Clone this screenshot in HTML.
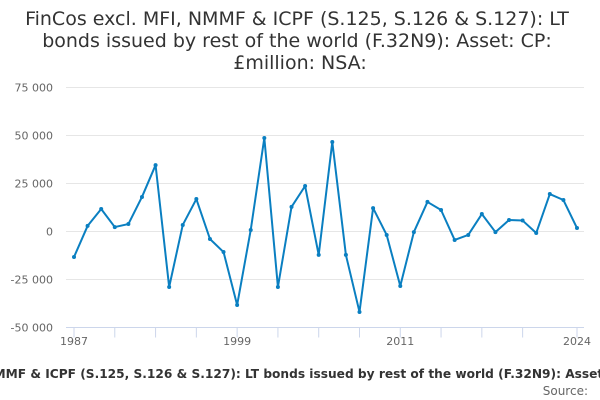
<!DOCTYPE html>
<html><head><meta charset="utf-8"><style>
body{margin:0;width:600px;height:400px;overflow:hidden;background:#fff;font-family:"DejaVu Sans","Liberation Sans",sans-serif;}
svg{display:block}
</style></head><body>
<svg id="chart" width="600" height="400">
<text x="300" y="25" text-anchor="middle" font-size="19" fill="#333">
<tspan x="300" y="25">FinCos excl. MFI, NMMF &amp; ICPF (S.125, S.126 &amp; S.127): LT</tspan>
<tspan x="300" y="47">bonds issued by rest of the world (F.32N9): Asset: CP:</tspan>
<tspan x="300" y="69">£million: NSA:</tspan></text>
<g id="grid"></g><g id="xaxis"></g><g id="series"></g>
<text x="300" y="378" text-anchor="middle" font-size="12.2" font-weight="bold" fill="#333">FinCos excl. MFI, NMMF &amp; ICPF (S.125, S.126 &amp; S.127): LT bonds issued by rest of the world (F.32N9): Asset: CP: £million: NSA:</text>
<text x="588" y="395" text-anchor="end" font-size="12" fill="#666">Source:</text>
</svg>
<script>
const years=[1987,1988,1989,1990,1991,1992,1993,1994,1995,1996,1997,1998,1999,2000,2001,2002,2003,2004,2005,2006,2007,2008,2009,2010,2011,2012,2013,2014,2015,2016,2017,2018,2019,2020,2021,2022,2023,2024];
const values=[-13300,2900,11700,2300,3900,18000,34600,-28900,3400,16900,-3900,-10700,-38300,800,48700,-28900,12800,23700,-12200,46600,-12200,-41900,12200,-1800,-28400,-300,15400,11200,-4400,-1800,9100,-300,6000,5700,-800,19500,16400,1800];
const yTicks=[-50000,-25000,0,25000,50000,75000];
const yTickLabels=["-50 000","-25 000","0","25 000","50 000","75 000"];
const xTicks=[1987,1990,1993,1996,1999,2002,2005,2008,2011,2014,2017,2020,2024];
const xLabels=[1987,1999,2011,2024];
const NS="http://www.w3.org/2000/svg";
const X0=74,X1=577,Y0=327.5,Y1=87.5;
const x=v=>X0+(v-1987)/(2024-1987)*(X1-X0);
const y=v=>Y0-(v+50000)/125000*(Y0-Y1);
function mk(t,a,p){const e=document.createElementNS(NS,t);for(const k in a)e.setAttribute(k,a[k]);p.appendChild(e);return e;}
const grid=document.getElementById('grid'),xa=document.getElementById('xaxis'),se=document.getElementById('series');
yTicks.forEach((t,i)=>{
 if(t!==-50000){const l=mk('line',{x1:66,x2:584,y1:y(t),y2:y(t),stroke:'#e6e6e6','stroke-width':1},grid);
 
 }
 const tx=mk('text',{x:53,y:y(t)+4,'text-anchor':'end','font-size':11,fill:'#666'},grid);
 tx.textContent=yTickLabels[i];
 
 
});
const ax=mk('line',{x1:66,x2:584,y1:Y0,y2:Y0,stroke:'#ccd6eb','stroke-width':1},xa);


xTicks.forEach(t=>{const l=mk('line',{x1:x(t),x2:x(t),y1:Y0,y2:Y0+10,stroke:'#ccd6eb'},xa);
 
 });
xLabels.forEach(t=>{const tx=mk('text',{x:x(t),y:345,'text-anchor':'middle','font-size':11,fill:'#666'},xa);
 tx.textContent=t;
 
 });
const path=mk('path',{d:values.map((v,i)=>(i?'L':'M')+x(years[i])+' '+y(v)).join(''),fill:'none',stroke:'#0a7fc1','stroke-width':2,'stroke-linejoin':'round'},se);


values.forEach((v,i)=>{const c=mk('circle',{cx:x(years[i]),cy:y(v),r:2,fill:'#0a7fc1'},se);
 
 });
</script>
</body></html>
